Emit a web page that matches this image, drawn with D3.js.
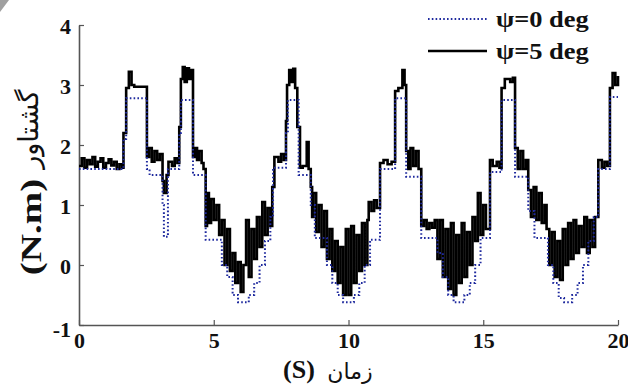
<!DOCTYPE html>
<html>
<head>
<meta charset="utf-8">
<script src="https://cdn.jsdelivr.net/npm/d3@7"></script>
<style>
  body { margin: 0; background: #fff; }
  svg { display: block; }
</style>
</head>
<body>
<div id="chart"></div>
<script>
// psi = 5 deg (solid black), step changes: time (s) and torque (N.m)
var timePsi5 = [
  0, 0.1, 0.2, 0.3, 0.4, 0.5, 0.6, 0.7, 0.8, 0.9, 1.0, 1.1, 1.2, 1.3, 1.4, 1.5, 1.6,
  1.65, 1.75, 1.85, 1.95, 2.05, 2.52, 2.6, 2.7, 2.8, 2.9, 3.0, 3.1, 3.15, 3.25, 3.32, 3.45, 3.55, 3.65,
  3.72, 3.78, 3.85, 3.92, 4.0, 4.08, 4.15, 4.23, 4.3, 4.38, 4.45, 4.55, 4.62,
  4.7, 4.75, 4.82, 4.9, 5.0, 5.1, 5.2, 5.3, 5.4, 5.5, 5.6, 5.7, 5.8, 5.9, 6.0, 6.1, 6.2, 6.3, 6.4, 6.5,
  6.6, 6.7, 6.8, 6.9, 7.0, 7.1, 7.17, 7.25, 7.4, 7.5, 7.6, 7.68, 7.72, 7.8, 7.88, 7.95, 8.02, 8.1,
  8.2, 8.3, 8.45, 8.52, 8.6, 8.65, 8.7, 8.8, 8.9, 9.0, 9.1, 9.2, 9.3, 9.4, 9.5, 9.6, 9.7, 9.8, 9.9,
  10.0, 10.1, 10.2, 10.3, 10.4, 10.5, 10.6, 10.7, 10.75, 10.85, 10.95, 11.05, 11.17, 11.3, 11.45, 11.6,
  11.73, 11.85, 12.0, 12.08, 12.14, 12.22, 12.3, 12.4, 12.5, 12.6, 12.7, 12.8, 12.9, 13.0, 13.1, 13.2,
  13.3, 13.4, 13.5, 13.6, 13.7, 13.8, 13.9, 14.0, 14.1, 14.2, 14.3, 14.4, 14.5, 14.6, 14.7, 14.8, 14.9,
  15.0, 15.1, 15.25, 15.35, 15.5, 15.6, 15.68, 15.8, 16.0, 16.1, 16.18, 16.28, 16.38, 16.48, 16.58,
  16.67, 16.77, 16.87, 16.97, 17.07, 17.17, 17.27, 17.35, 17.45, 17.55, 17.65, 17.75, 17.85, 17.95,
  18.05, 18.15, 18.25, 18.35, 18.45, 18.55, 18.65, 18.75, 18.85, 18.95, 19.05, 19.15, 19.27, 19.4,
  19.5, 19.6, 19.7, 19.8, 19.9, 20.0
];
var torquePsi5 = [
  1.65, 1.78, 1.62, 1.75, 1.68, 1.8, 1.64, 1.72, 1.78, 1.62, 1.7, 1.76, 1.66, 1.72, 1.6, 1.68, 1.62,
  2.2, 2.95, 3.22, 3.0, 2.97, 1.8, 1.95, 1.72, 1.9, 1.75, 1.85, 1.4, 1.2, 1.5, 1.72, 1.65, 1.78, 1.7,
  2.3, 3.1, 3.3, 3.05, 3.28, 3.1, 3.25, 1.8, 1.95, 1.75, 1.9, 1.7, 1.6,
  0.65, 1.2, 0.7, 1.1, 0.75, 1.0, 0.5, 0.75, 0.0, 0.6, -0.1, 0.2, -0.3, 0.05, -0.45, 0.0, 0.75, -0.2, 0.6, 0.1,
  0.8, 0.3, 1.05, 0.5, 0.95, 0.65, 1.3, 1.8, 1.72, 1.85, 1.75, 2.4, 3.0, 3.25, 3.05, 3.27, 2.95, 2.3,
  1.62, 1.65, 2.05, 1.6, 1.3, 0.8, 1.2, 0.55, 1.0, 0.3, 0.9, 0.1, 0.6, -0.1, 0.4, -0.3, 0.3, -0.5, 0.6,
  -0.5, 0.65, -0.3, 0.5, -0.1, 0.7, 0.0, 0.75, 1.05, 0.9, 1.08, 0.95, 1.7, 1.75, 1.68, 1.72,
  2.9, 2.95, 3.25, 3.0, 1.9, 1.6, 1.95, 1.65, 1.9, 1.6, 0.65, 0.75, 0.6, 0.7, 0.62, 0.75,
  0.1, 0.75, -0.2, 0.6, -0.4, 0.7, -0.5, 0.5, -0.3, 0.7, -0.2, 0.55, 0.0, 0.8, 0.4, 1.2, 0.5,
  1.0, 0.6, 1.75, 1.65, 1.72, 1.62, 2.95, 3.1, 3.05, 3.12, 1.95, 1.6, 1.9, 1.6, 1.75,
  1.25, 0.8, 1.3, 0.75, 1.2, 0.7, 1.0, 0.6, 0.0, 0.55, -0.2, 0.4, -0.25, 0.6,
  0.0, 0.7, 0.1, 0.75, 0.2, 0.65, 0.3, 0.8, 0.2, 0.75, 0.3, 0.8, 1.75, 1.62,
  1.72, 1.65, 2.95, 3.2, 3.0, 3.15
];

// psi = 0 deg (dotted blue)
var timePsi0 = [
  0, 1.65, 1.75, 2.52, 2.62, 3.1, 3.15, 3.3, 3.72, 3.78, 4.23, 4.7, 5.3, 5.5, 5.7, 5.9, 6.3, 6.5, 6.7,
  6.9, 7.1, 7.2, 7.68, 7.75, 8.15, 8.6, 8.75, 9.2, 9.4, 9.6, 9.8, 10.2, 10.4, 10.6, 10.8, 11.17, 11.73,
  12.14, 12.7, 13.3, 13.5, 13.7, 13.9, 14.3, 14.5, 14.7, 14.9, 15.25, 15.68, 16.18, 16.67, 16.9, 17.4,
  17.6, 17.8, 18.0, 18.3, 18.5, 18.7, 18.9, 19.1, 19.27, 19.7, 20.0
];
var torquePsi0 = [
  1.6, 2.1, 2.78, 1.6, 1.5, 1.0, 0.47, 1.6, 2.2, 2.75, 1.5, 0.42, 0.0, -0.2, -0.5, -0.62, -0.5, -0.3, 0.0,
  0.4, 0.8, 1.62, 2.2, 2.75, 1.5, 1.0, 0.45, 0.0, -0.3, -0.5, -0.62, -0.5, -0.3, 0.0, 0.42, 1.6, 2.78,
  1.47, 0.45, 0.2, -0.2, -0.5, -0.62, -0.5, -0.3, 0.0, 0.45, 1.55, 2.75, 1.47, 0.9, 0.45, 0.0,
  -0.3, -0.55, -0.62, -0.5, -0.3, 0.0, 0.4, 0.8, 1.6, 2.8, 2.8
];

var xTicks = [0, 5, 10, 15, 20];
var yTicks = [-1, 0, 1, 2, 3, 4];
var legendLabels = ["\u03c8=0 deg", "\u03c8=5 deg"];

var width = 628, height = 392;
var serif = "'Liberation Serif', 'Times New Roman', serif";

var svg = d3.select("#chart").append("svg")
  .attr("width", width)
  .attr("height", height);

var x = d3.scaleLinear().domain([0, 20]).range([79, 618]);
var y = d3.scaleLinear().domain([-1, 4]).range([325, 25]);

// little grey corner from the scan
svg.append("path")
  .attr("d", "M0,0 L9,0 L0,12 Z")
  .attr("fill", "#a0a0a0");

// axes
var xAxis = svg.append("g")
  .attr("transform", "translate(0," + y(-1) + ")")
  .call(d3.axisBottom(x).tickValues(xTicks).tickFormat(function(d) { return String(d); })
    .tickSizeInner(-5).tickSizeOuter(0).tickPadding(7));
var yAxis = svg.append("g")
  .attr("transform", "translate(" + x(0) + ",0)")
  .call(d3.axisLeft(y).tickValues(yTicks).tickFormat(function(d) { return String(d); })
    .tickSizeInner(-5).tickSizeOuter(0).tickPadding(8));

[xAxis, yAxis].forEach(function(a) {
  a.select(".domain").attr("stroke", "#555").attr("stroke-width", 1.6);
  a.selectAll(".tick line").attr("stroke", "#555").attr("stroke-width", 1.2);
  a.selectAll(".tick text")
    .attr("font-family", serif)
    .attr("font-weight", "bold")
    .attr("font-size", 22)
    .attr("fill", "#111");
});
yAxis.selectAll(".tick text").attr("dy", "0.38em");
// "-1" sits a little lower, like in the scan
yAxis.selectAll(".tick text").filter(function(d) { return d === -1; }).attr("dy", "0.5em");

var line5 = d3.line()
  .curve(d3.curveStepAfter)
  .x(function(d) { return x(d[0]); })
  .y(function(d) { return y(d[1]); });

var data5 = timePsi5.map(function(t, i) { return [t, torquePsi5[i]]; });
var data0 = timePsi0.map(function(t, i) { return [t, torquePsi0[i]]; });

svg.append("path")
  .datum(data5)
  .attr("fill", "none")
  .attr("stroke", "#000")
  .attr("stroke-width", 2.6)
  .attr("stroke-linejoin", "miter")
  .attr("d", line5);

svg.append("path")
  .datum(data0)
  .attr("fill", "none")
  .attr("stroke", "#1f2a9e")
  .attr("stroke-width", 2)
  .attr("stroke-dasharray", "1.6,2.2")
  .attr("d", line5);

// legend
var legend = svg.append("g");
legend.append("line")
  .attr("x1", 428).attr("x2", 487).attr("y1", 19).attr("y2", 19)
  .attr("stroke", "#1f2a9e").attr("stroke-width", 2).attr("stroke-dasharray", "1.6,2.2");
legend.append("line")
  .attr("x1", 428).attr("x2", 487).attr("y1", 51).attr("y2", 51)
  .attr("stroke", "#000").attr("stroke-width", 2.6);
legend.selectAll("text.lg")
  .data(legendLabels)
  .enter().append("text")
  .attr("class", "lg")
  .attr("transform", function(d, i) { return "translate(496," + (i === 0 ? 27 : 59) + ") scale(1.15,1)"; })
  .attr("font-family", serif)
  .attr("font-weight", "bold")
  .attr("font-size", 23)
  .attr("fill", "#111")
  .text(function(d) { return d; });

// y axis title (rotated)
var yTitle = svg.append("g").attr("transform", "translate(41,0) rotate(-90)");
yTitle.append("text")
  .attr("transform", "translate(-227,0) scale(1.3,1)")
  .attr("text-anchor", "middle")
  .attr("font-family", serif)
  .attr("font-weight", "bold")
  .attr("font-size", 30)
  .attr("fill", "#111")
  .text("(N.m)");
yTitle.append("text")
  .attr("x", -129).attr("y", -3)
  .attr("text-anchor", "middle")
  .attr("font-family", "'DejaVu Serif', 'DejaVu Sans', serif")
  .attr("font-size", 27)
  .attr("fill", "#111")
  .text("گشتاور");

// x axis title
svg.append("text")
  .attr("x", 299).attr("y", 378)
  .attr("text-anchor", "middle")
  .attr("font-family", serif)
  .attr("font-weight", "bold")
  .attr("font-size", 26)
  .attr("fill", "#111")
  .text("(S)");
svg.append("text")
  .attr("x", 350).attr("y", 379)
  .attr("text-anchor", "middle")
  .attr("font-family", "'DejaVu Serif', 'DejaVu Sans', serif")
  .attr("font-size", 22)
  .attr("fill", "#111")
  .text("زمان");
</script>
</body>
</html>
